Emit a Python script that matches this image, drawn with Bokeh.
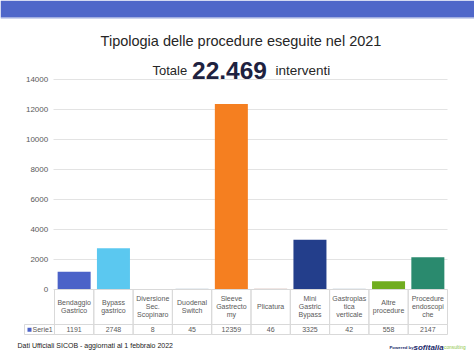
from bokeh.plotting import figure
from bokeh.models import Range1d
from bokeh.core.properties import value
from bokeh.embed import file_html
from bokeh.resources import INLINE

# ---------------- data ----------------
categories = ["Bendaggio\nGastrico", "Bypass\ngastrico", "Diversione\nSec.\nScopinaro",
              "Duodenal\nSwitch", "Sleeve\nGastrecto\nmy", "Plicatura",
              "Mini\nGastric\nBypass", "Gastroplas\ntica\nverticale",
              "Altre\nprocedure", "Procedure\nendoscopi\nche"]
values = [1191, 2748, 8, 45, 12359, 46, 3325, 42, 558, 2147]
bar_colors = ["#4b62c8", "#5bc8f0", "#b8c4cc", "#a9bccb", "#f57f20", "#c49a94",
              "#233e8b", "#a9bccb", "#70ad1f", "#2a8a6e"]
y_ticks = [0, 2000, 4000, 6000, 8000, 10000, 12000, 14000]
series_name = "Serie1"
title_line1 = "Tipologia delle procedure eseguite nel 2021"
total_prefix = "Totale"
total_value = "22.469"
total_suffix = "interventi"
footer_text = "Dati Ufficiali SICOB - aggiornati al 1 febbraio 2022"

# ---------------- layout (canvas pixels) ----------------
W, H = 474, 355
FL, FR, FT, FB = 54, 447, 79, 289
N = len(categories)
YMAX = y_ticks[-1]
FONT = value("Liberation Sans")


def X(px):
    return (px - FL) / (FR - FL) * N


def Y(py):
    return (FB - py) / (FB - FT) * YMAX


p = figure(width=W, height=H, x_range=Range1d(X(0), X(W)), y_range=Range1d(Y(H), Y(0)),
           output_backend="svg", toolbar_location=None,
           x_axis_location=None, y_axis_location=None, min_border=0)
p.outline_line_color = None
p.background_fill_color = "white"
p.border_fill_color = "white"
p.grid.visible = False


def txt(x, y, text, size, color, align="left", baseline="middle", style="normal",
        line_height=1.2):
    p.text(x=x, y=y, text=text, text_align=align, text_baseline=baseline,
           text_font=FONT, text_font_size=size, text_color=color,
           text_font_style=style, text_line_height=line_height)


# gridlines + y tick labels (from the tick list through the y scale)
p.segment(x0=[X(53)] * len(y_ticks), x1=[N] * len(y_ticks), y0=y_ticks, y1=y_ticks,
          line_color="#e3e3e3", line_width=1)
txt([X(47.7)] * len(y_ticks), y_ticks, [str(t) for t in y_ticks], "8px", "#595959",
    align="right")

# bars
p.vbar(x=[i + 0.5 for i in range(N)], top=values, width=0.84,
       fill_color=bar_colors, line_color=None)

# banner
p.quad(left=[X(0)], right=[X(W)], top=[Y(0)], bottom=[Y(17)],
       fill_color="#4f67c9", line_color=None)
p.quad(left=[X(0)], right=[X(W)], top=[Y(17)], bottom=[Y(18)],
       fill_color="#9aa8dc", line_color=None)

# titles
txt([X(240.5)], [Y(40.5)], [title_line1], "14.5px", "#262626", align="center",
    baseline="alphabetic")
txt([X(152)], [Y(69.5)], [total_prefix], "13px", "#262626", baseline="alphabetic")
txt([X(191.5)], [Y(70)], [total_value], "24.5px", "#1e2240", baseline="alphabetic",
    style="bold")
txt([X(275)], [Y(69.5)], [total_suffix], "13.5px", "#262626", baseline="alphabetic")

# data table
CELL = "#d9d9d9"
TXT = "#595959"
idx = list(range(N))
p.quad(left=idx, right=[i + 1 for i in idx], top=[Y(FB)] * N, bottom=[Y(324)] * N,
       fill_color=None, line_color=CELL, line_width=1)
p.quad(left=[X(24)] + idx, right=[0] + [i + 1 for i in idx], top=[Y(324)] * (N + 1),
       bottom=[Y(334)] * (N + 1), fill_color=None, line_color=CELL, line_width=1)
txt([i + 0.5 for i in idx], [Y(306)] * N, categories, "7px", TXT, align="center",
    line_height=1.18)
txt([i + 0.5 for i in idx], [Y(329.3)] * N, [str(v) for v in values], "7px", TXT,
    align="center")
p.quad(left=[X(27)], right=[X(31)], top=[Y(327.3)], bottom=[Y(331.3)],
       fill_color=bar_colors[0], line_color=None)
txt([X(32)], [Y(329.3)], [series_name], "7px", TXT)

# footer
txt([X(17)], [Y(344.5)], [footer_text], "7px", "#1a1a1a")
txt([X(389)], [Y(346.5)], ["Powered by"], "4.3px", "#1b2a6b", baseline="alphabetic",
    style="bold")
txt([X(413)], [Y(347)], ["sofitalia"], "8px", "#1b2a6b", baseline="alphabetic",
    style="bold italic")
txt([X(443.5)], [Y(346.5)], ["consulting"], "4.8px", "#8dc63f", baseline="alphabetic")

open("out.html", "w").write(file_html(p, INLINE))
